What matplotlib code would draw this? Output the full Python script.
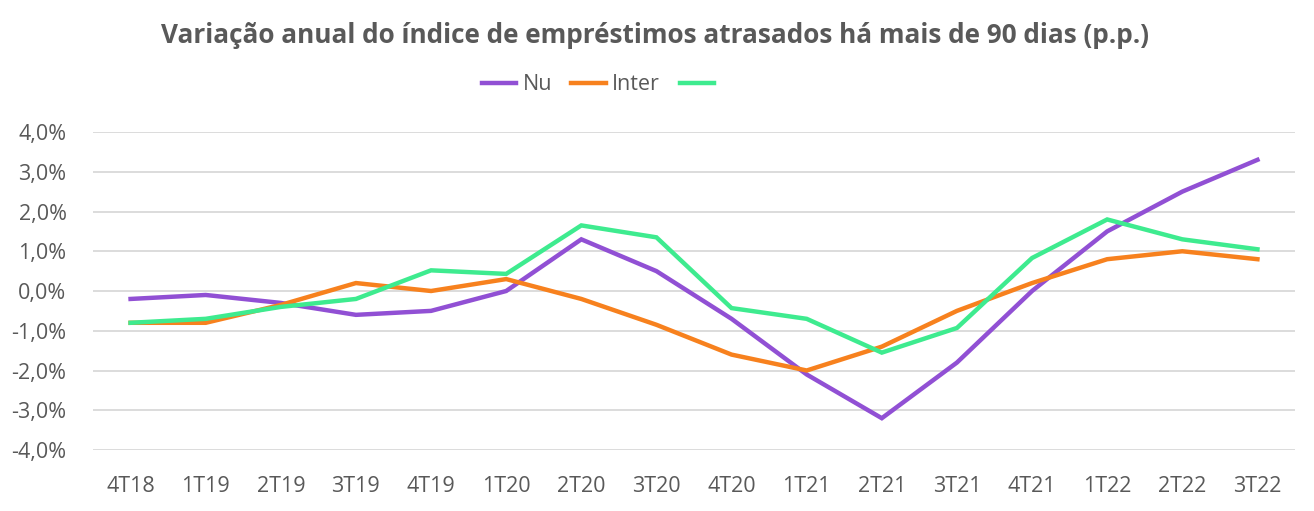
import matplotlib
matplotlib.use("Agg")
import matplotlib.pyplot as plt
from matplotlib.ticker import FuncFormatter

categories = ["4T18", "1T19", "2T19", "3T19", "4T19", "1T20", "2T20", "3T20",
              "4T20", "1T21", "2T21", "3T21", "4T21", "1T22", "2T22", "3T22"]
nu = [-0.2, -0.1, -0.3, -0.6, -0.5, 0.0, 1.3, 0.5, -0.7, -2.1, -3.2, -1.8, 0.0, 1.5, 2.5, 3.3]
inter = [-0.8, -0.8, -0.35, 0.2, 0.0, 0.3, -0.2, -0.85, -1.6, -2.0, -1.4, -0.5, 0.2, 0.8, 1.0, 0.8]
third = [-0.8, -0.7, -0.4, -0.2, 0.52, 0.43, 1.65, 1.35, -0.43, -0.7, -1.55, -0.93, 0.83, 1.8, 1.3, 1.05]
series_names = ["Nu", "Inter", ""]
colors = ["#9150D4", "#F7811E", "#3EEB8F"]
yticks = [-4, -3, -2, -1, 0, 1, 2, 3, 4]

plt.rcParams['font.family'] = ['Open Sans', 'DejaVu Sans']

W, H = 1314, 511
fig = plt.figure(figsize=(W / 100, H / 100), dpi=100)
ax = fig.add_axes([93 / W, 1 - 450 / H, (1295 - 93) / W, (450 - 132) / H])

x = list(range(len(categories)))
lines = []
for vals, name, c in zip([nu, inter, third], series_names, colors):
    ln, = ax.plot(x, vals, color=c, lw=3.2, label=name if name else " ", solid_joinstyle='miter')
    lines.append(ln)

ax.set_xlim(-0.5, len(categories) - 0.5)
ax.set_ylim(-4, 4)
ax.set_yticks(yticks)
ax.yaxis.set_major_formatter(FuncFormatter(lambda v, p: f"{v:.1f}%".replace(".", ",")))
ax.set_xticks(x)
ax.set_xticklabels(categories)
ax.grid(axis='y', color='#D9D9D9', lw=1.3)
ax.set_axisbelow(True)
for s in ax.spines.values():
    s.set_visible(False)
ax.tick_params(axis='both', length=0, colors='#595959', labelsize=15.5)
ax.tick_params(axis='x', pad=19)
ax.tick_params(axis='y', pad=19)

fig.text(655 / W, 1 - 35 / H, "Variação anual do índice de empréstimos atrasados há mais de 90 dias (p.p.)",
         ha='center', va='center', fontsize=18.8, fontweight='bold', color='#595959')

leg = fig.legend(handles=lines, labels=["Nu", "Inter", ""], loc='center',
                 bbox_to_anchor=(601 / W, 1 - 85 / H), ncol=3, frameon=False,
                 fontsize=15.5, handlelength=1.6, handletextpad=0.3, columnspacing=0.9)
for t in leg.get_texts():
    t.set_color('#595959')

fig.savefig("out.png", dpi=100)
